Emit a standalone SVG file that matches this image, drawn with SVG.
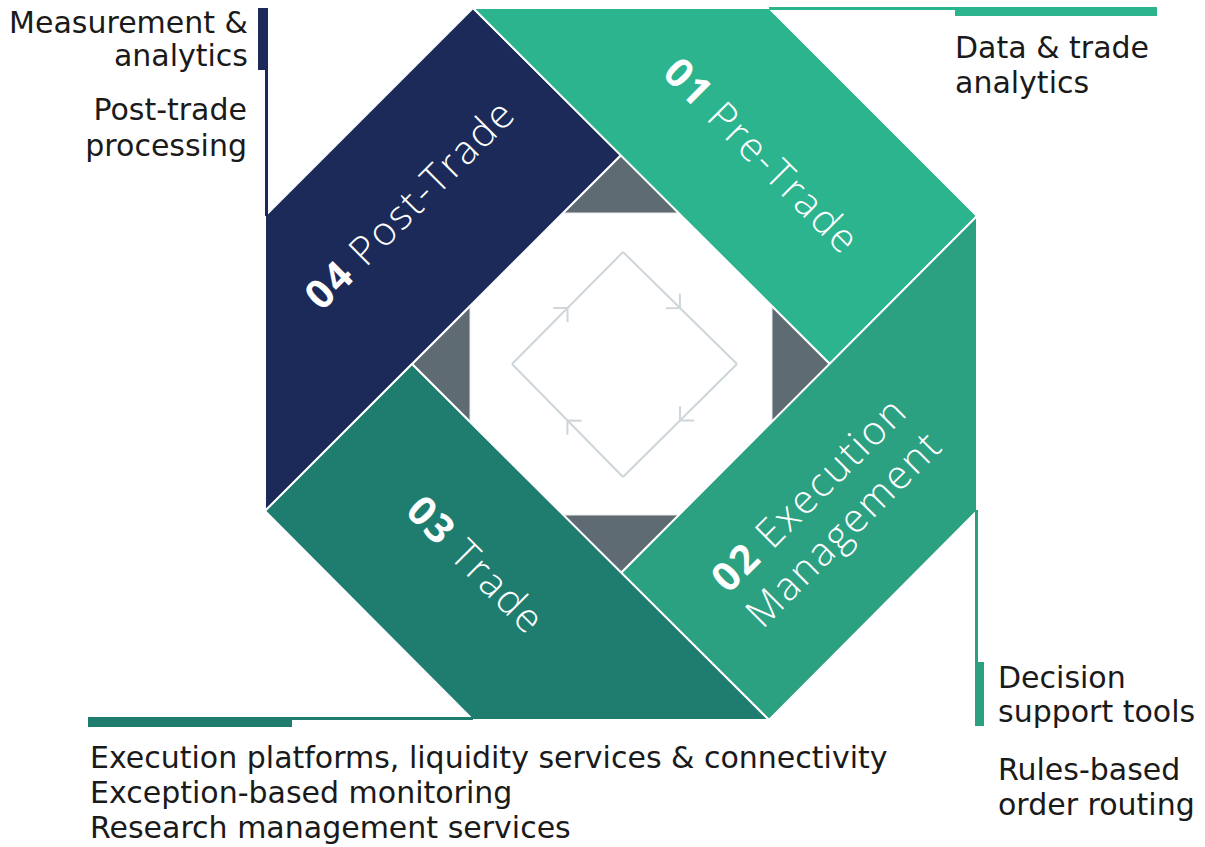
<svg xmlns="http://www.w3.org/2000/svg" width="1205" height="847" viewBox="0 0 1205 847">
<defs>
<style>
.band{stroke:#ffffff;stroke-width:2;stroke-linejoin:round}
.bt{font-family:"Open Sans","Liberation Sans",sans-serif;font-size:40px;fill:#ffffff;font-weight:300;letter-spacing:2px}
.bt .n{font-weight:700}
.lbl{font-family:"DejaVu Sans","Liberation Sans",sans-serif;font-size:30px;fill:#1a1a1a}
.cyc{fill:none;stroke:#cdd6da;stroke-width:2}
</style>
<marker id="chev" viewBox="-12 -12 14 24" markerWidth="14" markerHeight="24" refX="0" refY="0" orient="auto" markerUnits="userSpaceOnUse">
<path d="M-10,-10 L0,0 L-10,10" fill="none" stroke="#cdd6da" stroke-width="2"/>
</marker>
</defs>
<rect width="1205" height="847" fill="#ffffff"/>
<g id="hole">
<polygon points="621,155 830,364 621,573 412,364" fill="#5f6b73" stroke="#ffffff" stroke-width="2"/>
<polygon points="563,213 679,213 772,306 772,422 679,515 563,515 470,422 470,306" fill="#ffffff" stroke="#e8ecee" stroke-width="1"/>
</g>
<g id="node-04">
<polygon class="band" points="265,216 473,8 621,155 265,511" fill="#1b2a58"/>
<text class="bt" transform="translate(410,204) rotate(-45)" text-anchor="middle" dy="0.35em"><tspan class="n">04</tspan> Post-Trade</text>
</g>
<g id="node-01">
<polygon class="band" points="473,8 769,8 977,216 830,364" fill="#2bb48d"/>
<text class="bt" transform="translate(762,156) rotate(45)" text-anchor="middle" dy="0.35em"><tspan class="n">01</tspan> Pre-Trade</text>
</g>
<g id="node-02">
<polygon class="band" points="977,216 977,511 769,720 621,573" fill="#2ba182"/>
<text class="bt" transform="translate(826,511) rotate(-45)" text-anchor="middle"><tspan x="0" y="-10"><tspan class="n">02</tspan> Execution</tspan><tspan x="0" y="39">Management</tspan></text>
</g>
<g id="node-03">
<polygon class="band" points="769,720 473,720 265,511 412,364" fill="#1f7d70"/>
<text class="bt" transform="translate(476,565) rotate(45)" text-anchor="middle" dy="0.35em"><tspan class="n">03</tspan> Trade</text>
</g>
<g id="connectors">
<path class="cyc" d="M512,364 L567.5,308 L623,252" marker-mid="url(#chev)"/>
<path class="cyc" d="M623,252 L680,308 L737,364" marker-mid="url(#chev)"/>
<path class="cyc" d="M737,364 L680,420.5 L623,477" marker-mid="url(#chev)"/>
<path class="cyc" d="M623,477 L567.5,420.5 L512,364" marker-mid="url(#chev)"/>
<rect x="258" y="8" width="10" height="62" fill="#1b2a58"/>
<rect x="265" y="8" width="3" height="208" fill="#1b2a58"/>
<rect x="769" y="7" width="190" height="3" fill="#2bb48d"/>
<rect x="955" y="7" width="202" height="9" fill="#2bb48d"/>
<rect x="975" y="510" width="3" height="216" fill="#2ba182"/>
<rect x="975" y="662" width="9" height="64" fill="#2ba182"/>
<rect x="88" y="717" width="385" height="3" fill="#1f7d70"/>
<rect x="88" y="718" width="204" height="9" fill="#1f7d70"/>
</g>
<g id="labels">
<text class="lbl" x="248" y="33" text-anchor="end">Measurement &amp;</text>
<text class="lbl" x="248" y="66" text-anchor="end">analytics</text>
<text class="lbl" x="247" y="120" text-anchor="end">Post-trade</text>
<text class="lbl" x="247" y="156" text-anchor="end">processing</text>
<text class="lbl" x="955" y="58">Data &amp; trade</text>
<text class="lbl" x="955" y="93">analytics</text>
<text class="lbl" x="998" y="688">Decision</text>
<text class="lbl" x="998" y="722">support tools</text>
<text class="lbl" x="998" y="780">Rules-based</text>
<text class="lbl" x="998" y="815">order routing</text>
<text class="lbl" x="90" y="768">Execution platforms, liquidity services &amp; connectivity</text>
<text class="lbl" x="90" y="803">Exception-based monitoring</text>
<text class="lbl" x="90" y="838">Research management services</text>
</g>
</svg>
